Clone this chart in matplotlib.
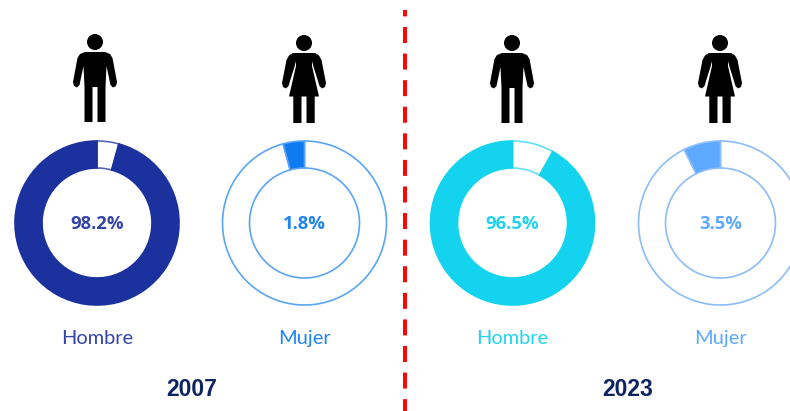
import matplotlib
matplotlib.use('Agg')
import matplotlib.pyplot as plt
from matplotlib.patches import Circle, Polygon

W, H = 790, 411

years = ['2007', '2023']
labels = ['Hombre', 'Mujer', 'Hombre', 'Mujer']
pct_labels = ['98.2%', '1.8%', '96.5%', '3.5%']
# share of the ring as drawn in the picture, it does not follow the printed %
colored_share = [95.7, 4.2, 91.8, 7.3]

fill_colors = ['#1b319e', '#0f7bf0', '#14d3ef', '#5ca9ff']
edge_colors = ['#5a66b8', '#5aa5f7', '#5fe0f4', '#8bbcfb']
text_colors = ['#3344a8', '#1f85f2', '#22d3f0', '#5ca9ff']

ring_x = [97, 304.5, 512.5, 720.5]
ring_y = 223
icon_x = [95, 304, 512, 720]
icon_top = [34, 35, 35, 35]

# half outlines of the icons, x from the middle and y from the shoulders
man_half = [(0, 35), (2.5, 35), (2.5, 70), (10.5, 70), (10.5, 35), (11.5, 14), (15.5, 33),
            (18, 35.5), (21, 34), (22, 30), (17.5, 6), (15, 2), (10, 0), (0, 0)]
woman_half = [(0, 43.5), (2.5, 43.5), (2.5, 70), (10.7, 70), (10.7, 43.5), (15, 43.5),
              (8, 13), (8, 0), (0, 0)]
woman_arm = [(8, 0), (11, 0), (15, 2.5), (17.5, 7), (22, 30), (21, 34), (18, 35.5),
             (15.5, 33), (9, 12), (8, 8)]


def y_(py):
    return H - py


def mirror(half):
    return half + [(-x, y) for x, y in reversed(half)]


def add_shape(ax, cx, s, pts):
    ax.add_patch(Polygon([(cx + x, y_(s + y)) for x, y in pts], closed=True,
                         color='black', lw=0, zorder=3))


def draw_person(ax, cx, top, female):
    # drawn on the pixel grid, top = top of the head
    ax.add_patch(Circle((cx, y_(top + 8)), 8, color='black', lw=0, zorder=3))
    s = top + 18
    if female:
        add_shape(ax, cx, s, mirror(woman_half))
        add_shape(ax, cx, s, woman_arm)
        add_shape(ax, cx, s, [(-x, y) for x, y in woman_arm])
    else:
        add_shape(ax, cx, s, mirror(man_half))


fig = plt.figure(figsize=(W / 100, H / 100), dpi=100)
ax = fig.add_axes([0, 0, 1, 1])

for i in range(4):
    share = colored_share[i]
    vals = [100 - share, share]
    cols = ['white', fill_colors[i]]
    wedges, _ = ax.pie(vals, colors=cols, startangle=90, counterclock=False,
                       center=(ring_x[i], y_(ring_y)), radius=82,
                       wedgeprops=dict(width=27, edgecolor=edge_colors[i], linewidth=1.2))
    if i % 2 == 0:
        wedges[1].set_edgecolor(fill_colors[i])
    ax.text(ring_x[i], y_(ring_y + 0.5), pct_labels[i], color=text_colors[i], ha='center',
            va='center', fontsize=13.3, fontweight='bold', family='Open Sans')
    ax.text(ring_x[i], y_(338), labels[i], color=text_colors[i], ha='center',
            va='center', fontsize=14.4, family='Lato')
    draw_person(ax, icon_x[i], icon_top[i], i % 2 == 1)

# first dash is cut short, so the pattern starts part way through
ax.plot([405, 405], [y_(10), y_(411)], color='#f80808', lw=2.9,
        linestyle=(2.38, (3.97, 2.63)), dash_capstyle='butt', zorder=2)

ax.text(192, y_(389), years[0], color='#0c2461', ha='center', va='center',
        fontsize=16.5, fontweight='bold', family='Liberation Sans')
ax.text(628, y_(389), years[1], color='#0c2461', ha='center', va='center',
        fontsize=16.5, fontweight='bold', family='Liberation Sans')

ax.set_xlim(0, W)
ax.set_ylim(0, H)
ax.set_aspect('auto')
ax.axis('off')
fig.savefig('out.png', dpi=100, facecolor='white')
